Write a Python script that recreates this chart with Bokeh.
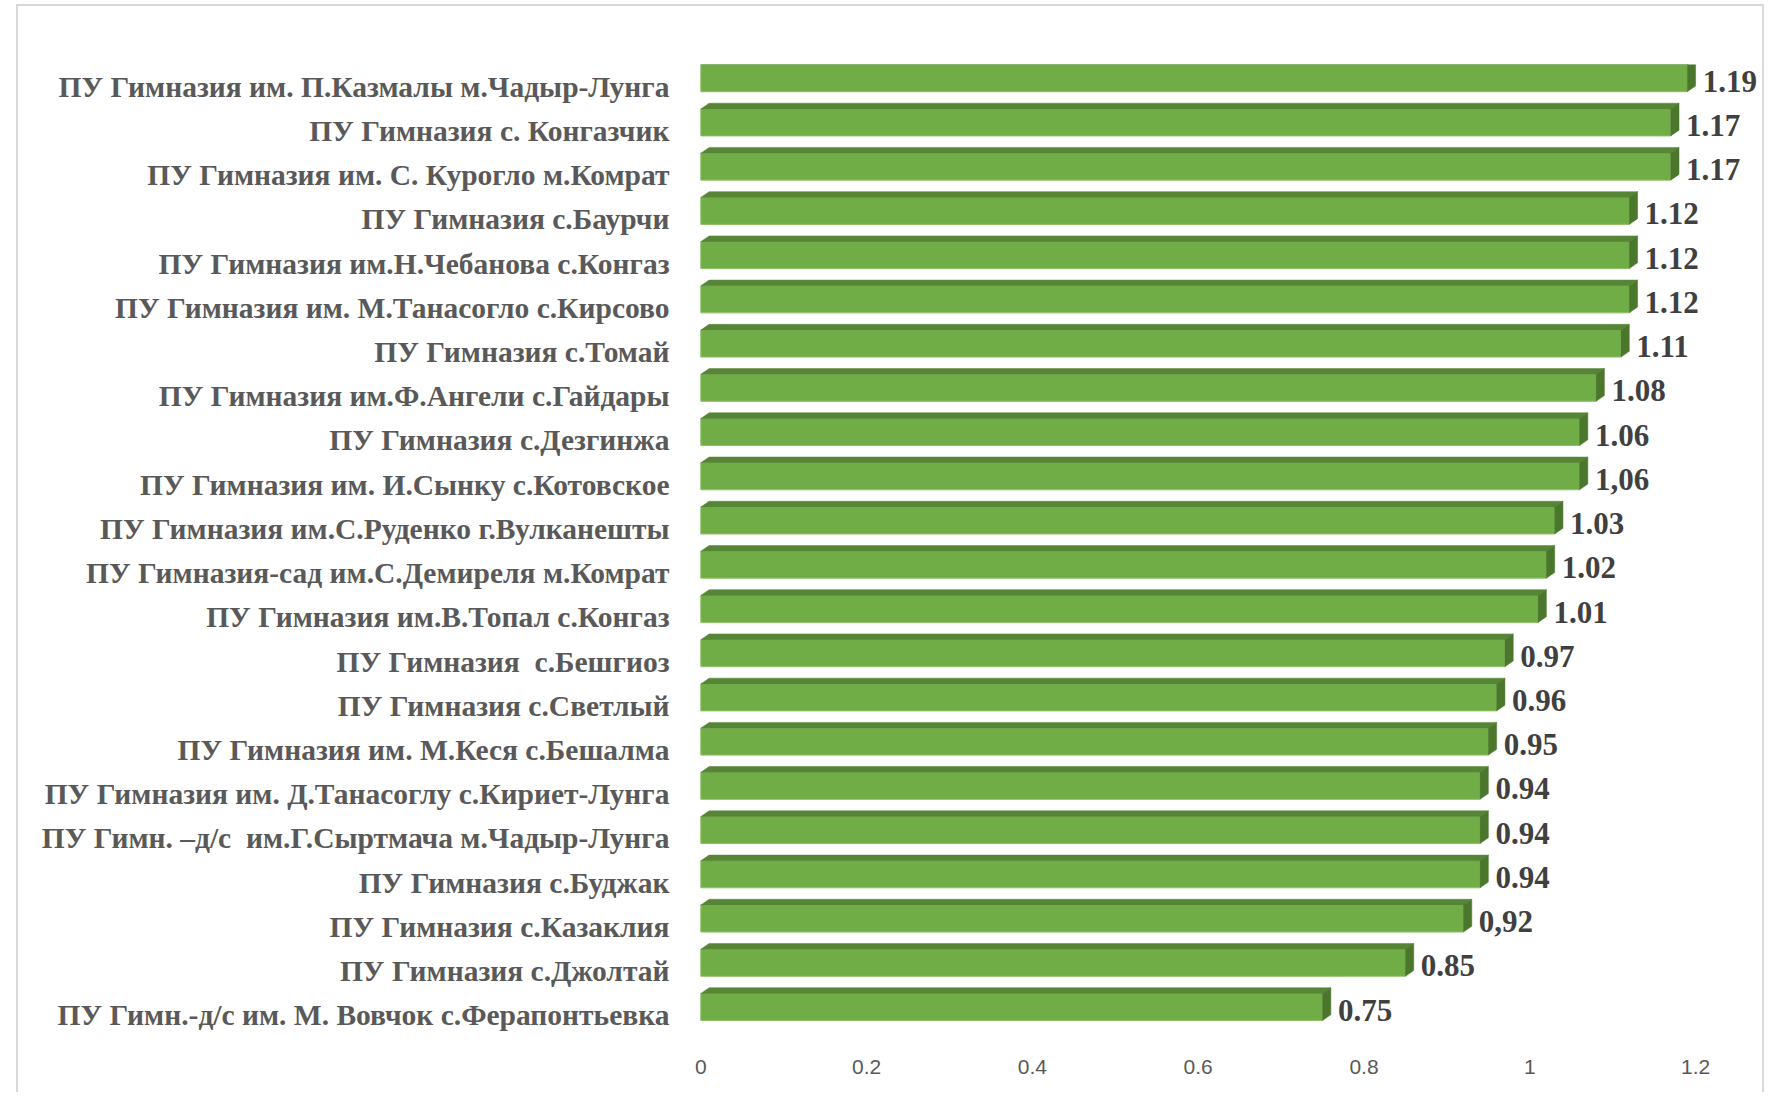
from bokeh.plotting import figure
from bokeh.models import Range1d, FixedTicker, ColumnDataSource, Spacer
from bokeh.layouts import row, column
from bokeh.embed import file_html
from bokeh.resources import INLINE
from bokeh.core.properties import value

schools = [
    "ПУ Гимназия им. П.Казмалы м.Чадыр-Лунга",
    "ПУ Гимназия с. Конгазчик",
    "ПУ Гимназия им. С. Курогло м.Комрат",
    "ПУ Гимназия с.Баурчи",
    "ПУ Гимназия им.Н.Чебанова с.Конгаз",
    "ПУ Гимназия им. М.Танасогло с.Кирсово",
    "ПУ Гимназия с.Томай",
    "ПУ Гимназия им.Ф.Ангели с.Гайдары",
    "ПУ Гимназия с.Дезгинжа",
    "ПУ Гимназия им. И.Сынку с.Котовское",
    "ПУ Гимназия им.С.Руденко г.Вулканешты",
    "ПУ Гимназия-сад им.С.Демиреля м.Комрат",
    "ПУ Гимназия им.В.Топал с.Конгаз",
    "ПУ Гимназия\u00a0 с.Бешгиоз",
    "ПУ Гимназия с.Светлый",
    "ПУ Гимназия им. М.Кеся с.Бешалма",
    "ПУ Гимназия им. Д.Танасоглу с.Кириет-Лунга",
    "ПУ Гимн. –д/с\u00a0 им.Г.Сыртмача м.Чадыр-Лунга",
    "ПУ Гимназия с.Буджак",
    "ПУ Гимназия с.Казаклия",
    "ПУ Гимназия с.Джолтай",
    "ПУ Гимн.-д/с им. М. Вовчок с.Ферапонтьевка",
]
values = [1.19, 1.17, 1.17, 1.12, 1.12, 1.12, 1.11, 1.08, 1.06, 1.06, 1.03,
          1.02, 1.01, 0.97, 0.96, 0.95, 0.94, 0.94, 0.94, 0.92, 0.85, 0.75]
value_labels = ["1.19", "1.17", "1.17", "1.12", "1.12", "1.12", "1.11", "1.08",
                "1.06", "1,06", "1.03", "1.02", "1.01", "0.97", "0.96", "0.95",
                "0.94", "0.94", "0.94", "0,92", "0.85", "0.75"]
x_ticks = [0, 0.2, 0.4, 0.6, 0.8, 1, 1.2]
x_tick_labels = ["0", "0.2", "0.4", "0.6", "0.8", "1", "1.2"]

# geometry (styling) constants
n = len(schools)
rows = list(range(n))
FACE_SHIFT = -0.19      # face center relative to category center (up)
FACE_H = 0.61           # face height in row units
DX = 0.010              # 3D depth in x (data units)
DY = 0.13               # 3D depth in y (row units)
LABEL_GAP = 0.0085

face_y = [r + FACE_SHIFT for r in rows]
tops = [fy - FACE_H / 2 for fy in face_y]
bots = [fy + FACE_H / 2 for fy in face_y]

top_xs = [[0, v, v + DX, DX] for v in values]
top_ys = [[t, t, t - DY, t - DY] for t in tops]
side_xs = [[v, v + DX, v + DX, v] for v in values]
side_ys = [[t, t - DY, b - DY, b] for t, b in zip(tops, bots)]

W, H = 1748, 1088
p = figure(width=W, height=H, output_backend="svg", toolbar_location=None,
           x_range=Range1d(-0.004, 1.2807), y_range=Range1d(n - 0.5, -0.5),
           min_border_left=679, min_border_right=4, min_border_top=58,
           min_border_bottom=57)
p.styles = {"border-left": "2px solid #d9d9d9", "border-top": "2px solid #d9d9d9",
            "border-right": "2px solid #d9d9d9"}
p.outline_line_color = None
p.xgrid.visible = False
p.ygrid.visible = False
p.background_fill_color = "white"
p.border_fill_color = "white"

src = ColumnDataSource(dict(y=face_y, right=values))
p.hbar(y="y", left=0, right="right", height=FACE_H, source=src,
       fill_color="#70AD47", line_color="#8cc063", line_width=1)
p.patches(xs=top_xs, ys=top_ys, fill_color="#568536", line_color="#568536", line_width=0.5)
p.patches(xs=side_xs, ys=side_ys, fill_color="#4B772D", line_color="#4B772D", line_width=0.5)

lab = ColumnDataSource(dict(x=[v + DX + LABEL_GAP for v in values],
                            y=[r - 0.12 for r in rows], t=value_labels))
p.text(x="x", y="y", text="t", source=lab, text_font=value("Liberation Serif"),
       text_font_style="bold", text_font_size="31px", text_color="#404040",
       text_align="left", text_baseline="middle")

# y axis: category labels
p.yaxis.ticker = FixedTicker(ticks=rows)
p.yaxis.major_label_overrides = {r: s for r, s in zip(rows, schools)}
p.yaxis.axis_line_color = None
p.yaxis.major_tick_line_color = None
p.yaxis.minor_tick_line_color = None
p.yaxis.major_label_standoff = 22
p.yaxis.major_label_text_font = "Liberation Serif"
p.yaxis.major_label_text_font_style = "bold"
p.yaxis.major_label_text_font_size = "29.5px"
p.yaxis.major_label_text_color = "#595959"

# x axis
p.xaxis.ticker = FixedTicker(ticks=x_ticks)
p.xaxis.major_label_overrides = {t: s for t, s in zip(x_ticks, x_tick_labels)}
p.xaxis.axis_line_color = None
p.xaxis.major_tick_line_color = None
p.xaxis.minor_tick_line_color = None
p.xaxis.major_label_standoff = 16
p.xaxis.major_label_text_font = "Liberation Sans"
p.xaxis.major_label_text_font_size = "21px"
p.xaxis.major_label_text_color = "#595959"

layout = column(Spacer(width=10, height=4), row(Spacer(width=16, height=10), p))
open("out.html", "w").write(file_html(layout, INLINE))
